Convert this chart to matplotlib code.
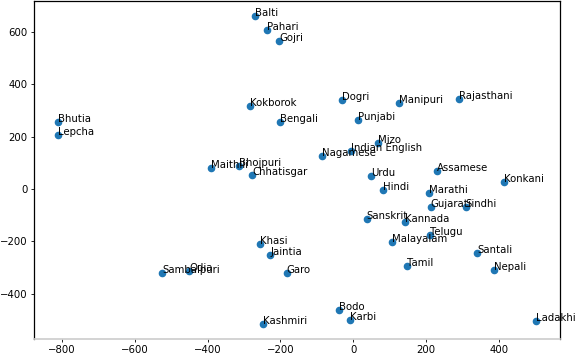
import matplotlib
matplotlib.use("Agg")
import matplotlib.pyplot as plt

languages = ["Balti", "Pahari", "Gojri", "Kokborok", "Bengali", "Bhutia", "Lepcha",
             "Maithili", "Bhojpuri", "Chhatisgar", "Dogri", "Manipuri", "Rajasthani",
             "Punjabi", "Mizo", "Indian English", "Nagamese", "Urdu", "Assamese",
             "Konkani", "Hindi", "Marathi", "Gujarati", "Sindhi", "Sanskrit", "Kannada",
             "Telugu", "Malayalam", "Santali", "Tamil", "Nepali", "Garo", "Bodo", "Karbi",
             "Ladakhi", "Khasi", "Jaintia", "Sambalpuri", "Odia", "Kashmiri"]
x_vals = [-270, -236, -203, -283, -201, -810, -811,
          -391, -314, -278, -31, 125, 290,
          12, 67, -5, -87, 50, 231,
          414, 81, 207, 213, 309, 37, 141,
          210, 107, 341, 148, 387, -183, -40, -10,
          503, -255, -228, -524, -450, -248]
y_vals = [663, 609, 566, 318, 258, 255, 208,
          79, 89, 54, 342, 330, 344,
          263, 177, 146, 126, 50, 68,
          26, -5, -14, -68, -68, -114, -126,
          -176, -203, -244, -294, -309, -321, -461, -502,
          -506, -208, -252, -319, -314, -515]
x_ticks = [-800, -600, -400, -200, 0, 200, 400]
y_ticks = [-400, -200, 0, 200, 400, 600]

fig = plt.figure(figsize=(5.78, 3.54), dpi=100)
ax = fig.add_axes([34 / 578, 1 - 338.5 / 354, (560.3 - 34) / 578, (338.5 - 0.7) / 354])
ax.scatter(x_vals, y_vals, s=20, color="#1f77b4", zorder=2)
for name, xv, yv in zip(languages, x_vals, y_vals):
    ax.annotate(name, (xv, yv), fontsize=7.3, annotation_clip=False, clip_on=False)

ax.set_xlim(-877, 569)
ax.set_ylim(-571, 720)
ax.set_xticks(x_ticks)
ax.set_yticks(y_ticks)
ax.set_xticklabels([f"\u2212{abs(v)}" if v < 0 else str(v) for v in x_ticks])
ax.set_yticklabels([f"\u2212{abs(v)}" if v < 0 else str(v) for v in y_ticks])
ax.tick_params(labelsize=7.3, length=2.5, width=0.6, pad=2)
for sp in ax.spines.values():
    sp.set_linewidth(0.9)
ax.spines["bottom"].set_color("#cccccc")
ax.spines["bottom"].set_linewidth(1.2)

fig.savefig("out.png", dpi=100)
